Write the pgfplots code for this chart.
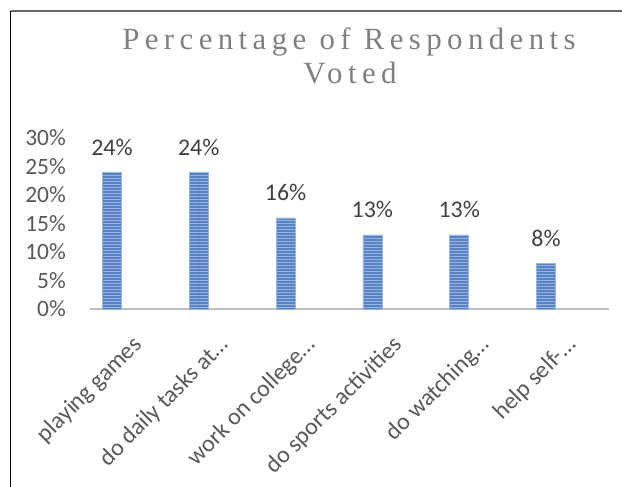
\documentclass[border=0pt]{standalone}
\usepackage{fontspec}
\setmainfont{Carlito}
\newfontfamily\titlefont[LetterSpace=17.5]{Liberation Serif}
\usepackage{pgfplots}
\pgfplotsset{compat=1.18}
\usetikzlibrary{patterns}
\definecolor{barblue}{RGB}{88,130,194}
\definecolor{barlight}{RGB}{150,180,225}
\definecolor{ticktext}{RGB}{89,89,89}
\definecolor{datatext}{RGB}{64,64,64}
\definecolor{titletext}{RGB}{128,128,128}
\definecolor{axisgray}{RGB}{191,191,191}
\begin{document}
\begin{tikzpicture}
\useasboundingbox (0,0) rectangle (622bp,-487bp);
\draw[line width=1.5bp, black!60] (10.5bp,-11bp) -- (622bp,-11bp);
\draw[line width=1.5bp, black] (10.5bp,-11bp) -- (10.5bp,-487bp);
\node[anchor=base, text=titletext, font=\titlefont\fontsize{31}{36}\selectfont] at (349bp,-49bp) {Percentage of Respondents};
\node[anchor=base, text=titletext, font=\titlefont\fontsize{31}{36}\selectfont] at (350bp,-83bp) {Voted};
\begin{axis}[
  at={(90bp,-309bp)}, anchor=south west,
  scale only axis, width=519bp, height=171bp,
  xmin=-0.253, xmax=5.726, ymin=0, ymax=30,
  axis x line*=bottom, axis y line*=left,
  x axis line style={draw=axisgray, line width=2bp},
  y axis line style={draw=none},
  major tick length=0pt,
  xtick=data,
  xticklabels={playing games, do daily tasks at…, work on college…, do sports activities, do watching…, help self-…},
  xticklabel style={font=\fontsize{24}{27}\selectfont, text=ticktext, inner sep=0pt, xshift=31bp, yshift=-37bp, rotate=45, anchor=base east},
  ytick={0,5,10,15,20,25,30},
  yticklabels={0\%,5\%,10\%,15\%,20\%,25\%,30\%},
  yticklabel style={font=\fontsize{23.5}{26}\selectfont, text=ticktext, inner sep=0pt, anchor=east, xshift=-24bp},
  ybar, bar width=19bp,
  nodes near coords={\pgfmathprintnumber[assume math mode=true]{\pgfplotspointmeta}\%},
  nodes near coords style={font=\fontsize{24}{28}\selectfont, text=datatext, inner sep=0pt, anchor=base, yshift=17bp},
  clip=false,
]
\addplot[fill=barblue, draw=barlight, line width=0.6bp,
  postaction={pattern=horizontal lines, pattern color=barlight}]
  coordinates {(0,24) (1,24) (2,16) (3,13) (4,13) (5,8)};
\end{axis}
\end{tikzpicture}
\end{document}
